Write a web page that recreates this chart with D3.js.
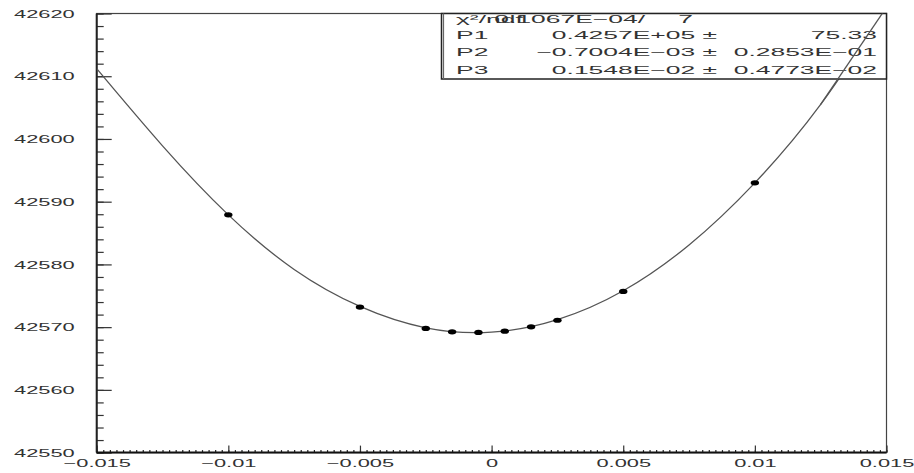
<!DOCTYPE html>
<html>
<head>
<meta charset="utf-8">
<script src="https://cdn.jsdelivr.net/npm/d3@7"></script>
<style>
  body { margin: 0; background: #fff; }
  svg { display: block; font-family: "Liberation Sans", Arial, sans-serif; }
</style>
</head>
<body>
<svg id="chart"></svg>
<script>
// measured points
const pointX = [-0.01, -0.005, -0.0025, -0.0015, -0.0005, 0.0005, 0.0015, 0.0025, 0.005, 0.01]
const pointY = [42587.9, 42573.2, 42569.8, 42569.25, 42569.15, 42569.35, 42570.05, 42571.1, 42575.7, 42593.0]

// fit curve
const curveX = [-0.015, -0.0125, -0.01, -0.0075, -0.005, -0.0025, 0, 0.0025, 0.005, 0.0075, 0.01, 0.0125, 0.015]
const curveY = [42611.2, 42598.9, 42587.9, 42579.2, 42573.3, 42569.9, 42569.2, 42571.2, 42575.8, 42583.1, 42593.0, 42605.5, 42621.0]

const xTicks = [-0.015, -0.01, -0.005, 0, 0.005, 0.01, 0.015]
const xTickLabels = ['−0.015', '−0.01', '−0.005', '0', '0.005', '0.01', '0.015']
const yTicks = [42550, 42560, 42570, 42580, 42590, 42600, 42610, 42620]

const statLabels = ['χ²/ndf', 'P1', 'P2', 'P3']
const statValues = ['0.1067E−04/', '0.4257E+05 ±', '−0.7004E−03 ±', '0.1548E−02 ±']
const statErrors = ['7', '75.33', '0.2853E−01', '0.4773E−02']

const width = 914
const height = 473
const sx = 1.9 // the picture is stretched sideways
const sxStats = 2.3
const fontSize = 11.5

const svg = d3.select('#chart').attr('width', width).attr('height', height)

const x = d3.scaleLinear().domain([-0.015, 0.015]).range([96.7, 886.5])
const y = d3.scaleLinear().domain([42550, 42620]).range([452.6, 13.5])

svg.append('defs').append('clipPath').attr('id', 'plot')
  .append('rect')
  .attr('x', x.range()[0]).attr('y', y.range()[1])
  .attr('width', x.range()[1] - x.range()[0])
  .attr('height', y.range()[0] - y.range()[1])

// frame
svg.append('rect')
  .attr('x', x.range()[0]).attr('y', y.range()[1])
  .attr('width', x.range()[1] - x.range()[0])
  .attr('height', y.range()[0] - y.range()[1])
  .attr('fill', 'none')
  .attr('stroke', '#444')
  .attr('stroke-width', 1.2)

// y axis, minor then major
const yMinor = d3.range(42550, 42620.1, 2)
svg.append('g')
  .attr('transform', `translate(${x.range()[0]},0)`)
  .call(d3.axisLeft(y).tickValues(yMinor).tickSizeInner(-7).tickSizeOuter(0).tickFormat(''))
  .call(g => g.select('.domain').remove())
  .call(g => g.selectAll('line').attr('stroke', '#333').attr('stroke-width', 1.2))

svg.append('g')
  .attr('transform', `translate(${x.range()[0]},0)`)
  .call(d3.axisLeft(y).tickValues(yTicks).tickSizeInner(-15).tickSizeOuter(0).tickPadding(22).tickFormat(d3.format('d')))
  .call(g => g.select('.domain').remove())
  .call(g => g.selectAll('line').attr('stroke', '#333').attr('stroke-width', 1.2))
  .call(g => g.selectAll('text')
    .attr('x', -22 / sx)
    .attr('transform', `scale(${sx},1)`)
    .attr('font-size', fontSize)
    .attr('font-family', '"Liberation Sans", Arial, sans-serif')
    .attr('fill', '#333'))

// x axis, minor then major
const xMinor = d3.range(-0.015, 0.01501, 0.00025)
svg.append('g')
  .attr('transform', `translate(0,${y.range()[0]})`)
  .call(d3.axisBottom(x).tickValues(xMinor).tickSizeInner(-2.5).tickSizeOuter(0).tickFormat(''))
  .call(g => g.select('.domain').remove())
  .call(g => g.selectAll('line').attr('stroke', '#222').attr('stroke-width', 1.2))

svg.append('g')
  .attr('transform', `translate(0,${y.range()[0]})`)
  .call(d3.axisBottom(x).tickValues(xTicks).tickSizeInner(-7).tickSizeOuter(0).tickPadding(6)
    .tickFormat((d, i) => xTickLabels[i]))
  .call(g => g.select('.domain').remove())
  .call(g => g.selectAll('line').attr('stroke', '#333').attr('stroke-width', 1.2))
  .call(g => g.selectAll('text')
    .attr('transform', `scale(${sx},1)`)
    .attr('font-size', fontSize)
    .attr('font-family', '"Liberation Sans", Arial, sans-serif')
    .attr('fill', '#333'))

// heavier left and bottom axis lines
svg.append('line')
  .attr('x1', x.range()[0]).attr('x2', x.range()[0])
  .attr('y1', y.range()[1]).attr('y2', y.range()[0])
  .attr('stroke', '#222').attr('stroke-width', 2)
svg.append('line')
  .attr('x1', x.range()[0]).attr('x2', x.range()[1])
  .attr('y1', y.range()[0]).attr('y2', y.range()[0])
  .attr('stroke', '#111').attr('stroke-width', 2)

// fit curve
const curve = curveX.map((d, i) => [d, curveY[i]])
const line = d3.line().x(d => x(d[0])).y(d => y(d[1])).curve(d3.curveNatural)
svg.append('path')
  .datum(curve)
  .attr('clip-path', 'url(#plot)')
  .attr('fill', 'none')
  .attr('stroke', '#555')
  .attr('stroke-width', 1.3)
  .attr('d', line)

// points
svg.append('g')
  .selectAll('ellipse')
  .data(pointX.map((d, i) => [d, pointY[i]]))
  .enter().append('ellipse')
  .attr('cx', d => x(d[0]))
  .attr('cy', d => y(d[1]))
  .attr('rx', 4.2)
  .attr('ry', 2.6)
  .attr('fill', '#000')

// stats box
const box = svg.append('g')
box.append('rect')
  .attr('x', 441.5).attr('y', 13.5)
  .attr('width', 886.5 - 441.5).attr('height', 79 - 13.5)
  .attr('fill', '#fff')
  .attr('stroke', '#222')
  .attr('stroke-width', 1.5)
box.append('line')
  .attr('x1', 443.5).attr('x2', 443.5).attr('y1', 13.5).attr('y2', 79)
  .attr('stroke', '#666').attr('stroke-width', 1.2)

const rowY = [22.5, 38.5, 56, 73.5]
const valueEnd = [645, 717, 717, 717]
const errorEnd = [693, 877, 877, 877]

function stretchedText(g, px, py, str, anchor) {
  g.append('text')
    .attr('transform', `translate(${px},${py}) scale(${sxStats},1)`)
    .attr('text-anchor', anchor)
    .attr('font-size', fontSize)
    .attr('fill', '#333')
    .text(str)
}

statLabels.forEach((lab, i) => {
  stretchedText(box, 456, rowY[i], lab, 'start')
  stretchedText(box, valueEnd[i], rowY[i], statValues[i], 'end')
  stretchedText(box, errorEnd[i], rowY[i], statErrors[i], 'end')
})

// curve runs over the box, as in the original
svg.append('path')
  .datum(curve.filter(d => d[0] > 0.011))
  .attr('clip-path', 'url(#plot)')
  .attr('fill', 'none')
  .attr('stroke', '#555')
  .attr('stroke-width', 1.3)
  .attr('d', line)
</script>
</body>
</html>
